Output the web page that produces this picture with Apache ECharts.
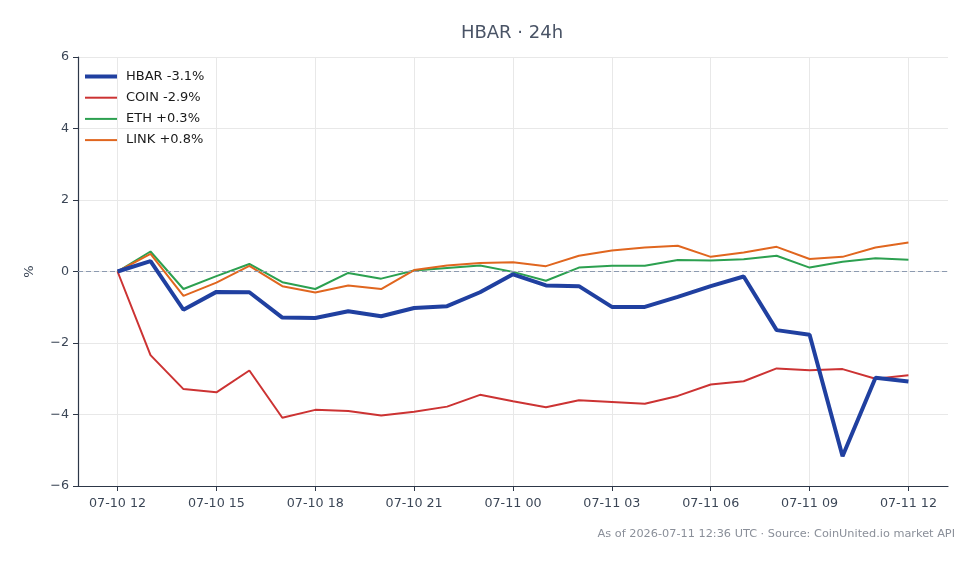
<!DOCTYPE html>
<html>
<head>
<meta charset="utf-8">
<script src="https://cdn.jsdelivr.net/npm/echarts@6/dist/echarts.min.js"></script>
<style>
  html, body { margin: 0; padding: 0; background: #fff; }
  #chart { width: 980px; height: 564px; }
</style>
</head>
<body>
<div id="chart"></div>
<script>
// hours since 07-10 12:00 UTC
const hours = [0, 1, 2, 3, 4, 5, 6, 7, 8, 9, 10, 11, 12, 13, 14, 15, 16, 17, 18, 19, 20, 21, 22, 23, 24];
const tickHours = [0, 3, 6, 9, 12, 15, 18, 21, 24];
const tickLabels = ["07-10 12", "07-10 15", "07-10 18", "07-10 21", "07-11 00", "07-11 03", "07-11 06", "07-11 09", "07-11 12"];

const hbar = [0, 0.29, -1.07, -0.57, -0.58, -1.29, -1.3, -1.11, -1.25, -1.02, -0.97, -0.58, -0.08,
  -0.39, -0.41, -0.99, -0.99, -0.71, -0.41, -0.14, -1.64, -1.77, -5.17, -2.97, -3.08];
const coin = [0, -2.34, -3.29, -3.38, -2.77, -4.09, -3.87, -3.9, -4.03, -3.92, -3.78, -3.45, -3.63,
  -3.8, -3.6, -3.65, -3.7, -3.48, -3.16, -3.07, -2.71, -2.76, -2.73, -3.0, -2.9];
const eth = [0, 0.56, -0.49, -0.13, 0.21, -0.3, -0.49, -0.04, -0.2, 0.03, 0.1, 0.17, -0.01,
  -0.26, 0.11, 0.16, 0.16, 0.32, 0.31, 0.34, 0.44, 0.11, 0.27, 0.37, 0.33];
const link = [0, 0.49, -0.68, -0.31, 0.16, -0.41, -0.59, -0.39, -0.49, 0.04, 0.17, 0.24, 0.26,
  0.15, 0.44, 0.59, 0.67, 0.72, 0.41, 0.53, 0.69, 0.35, 0.41, 0.67, 0.81];

const names = ["HBAR -3.1%", "COIN -2.9%", "ETH +0.3%", "LINK +0.8%"];
const colors = ["#2040a0", "#cc3333", "#2ca050", "#e0661f"];
const widths = [4, 2, 2, 2];
const font = "DejaVu Sans";

function pairs(vals) {
  return hours.map((h, i) => [h, vals[i]]);
}

function lineSeries(idx, vals, z) {
  return {
    name: names[idx],
    type: "line",
    data: pairs(vals),
    showSymbol: false,
    symbol: "none",
    z: z,
    lineStyle: { color: colors[idx], width: widths[idx] },
    itemStyle: { color: colors[idx] }
  };
}

const series = [
  lineSeries(0, hbar, 5),
  lineSeries(1, coin, 3),
  lineSeries(2, eth, 3),
  lineSeries(3, link, 3)
];
series[1].markLine = {
  silent: true,
  symbol: "none",
  label: { show: false },
  lineStyle: { color: "#8c9ab0", type: [5, 3], width: 1 },
  data: [{ yAxis: 0 }]
};

const chart = echarts.init(document.getElementById("chart"));
chart.setOption({
  animation: false,
  textStyle: { fontFamily: font },
  title: [
    {
      text: "HBAR · 24h",
      left: 507,
      textAlign: "center",
      top: 19,
      textStyle: { fontFamily: font, fontSize: 18, fontWeight: "normal", color: "#4a5466" }
    },
    {
      text: "As of 2026-07-11 12:36 UTC · Source: CoinUnited.io market API",
      right: 20,
      top: 524,
      textStyle: { fontFamily: font, fontSize: 11.3, fontWeight: "normal", color: "#8a8f99" }
    }
  ],
  legend: {
    orient: "vertical",
    left: 80,
    top: 65,
    itemWidth: 32,
    itemHeight: 14,
    itemGap: 8.2,
    textStyle: { fontFamily: font, fontSize: 13, color: "#1a1a1a", padding: [0, 0, 0, 4] },
    data: names.map((n, i) => ({
      name: n,
      icon: "path://M0,0L32,0L32," + widths[i] + "L0," + widths[i] + "Z",
      itemStyle: { color: colors[i] }
    }))
  },
  grid: { left: 78, right: 32, top: 57, bottom: 78 },
  xAxis: {
    type: "value",
    min: -1.2,
    max: 25.2,
    axisLine: { onZero: false, lineStyle: { color: "#2d3748", width: 1.2 } },
    axisTick: { show: true, length: 5, customValues: tickHours, lineStyle: { color: "#2d3748" } },
    axisLabel: {
      customValues: tickHours,
      formatter: v => tickLabels[tickHours.indexOf(Math.round(v))],
      color: "#3b4656",
      fontSize: 12.7,
      margin: 11,
      fontFamily: font
    },
    splitLine: { show: true, customValues: tickHours, lineStyle: { color: "#e8e8e8", width: 1 } }
  },
  yAxis: {
    type: "value",
    min: -6,
    max: 6,
    interval: 2,
    name: "%",
    nameLocation: "middle",
    nameRotate: 90,
    nameGap: 42,
    nameTextStyle: { fontFamily: font, fontSize: 13, color: "#3b4656" },
    axisLine: { show: true, onZero: false, lineStyle: { color: "#2d3748", width: 1.2 } },
    axisTick: { show: true, length: 5, lineStyle: { color: "#2d3748" } },
    axisLabel: {
      formatter: v => (v < 0 ? "\u2212" + Math.abs(v) : String(v)),
      color: "#3b4656",
      fontSize: 12.7,
      margin: 9,
      fontFamily: font
    },
    splitLine: { show: true, lineStyle: { color: "#e8e8e8", width: 1 } }
  },
  series: series
});
</script>
</body>
</html>
